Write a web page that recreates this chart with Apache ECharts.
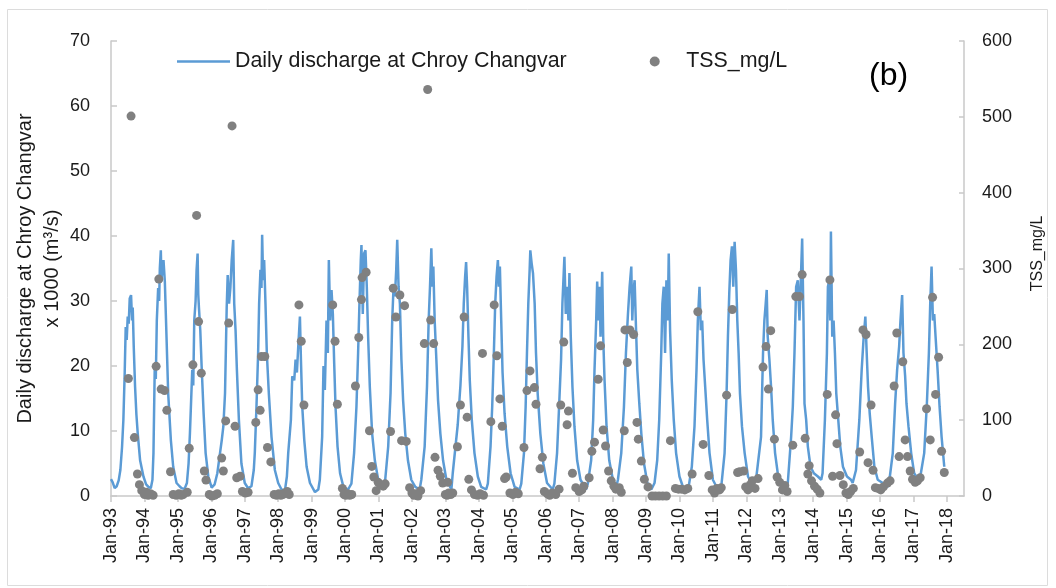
<!DOCTYPE html>
<html>
<head>
<meta charset="utf-8">
<script src="https://cdn.jsdelivr.net/npm/echarts@6/dist/echarts.min.js"></script>
<style>
  html, body { margin: 0; padding: 0; background: #fff; }
  #chart { width: 1056px; height: 588px; }
</style>
</head>
<body>
<div id="chart"></div>
<script>
// x axis ticks (decimal years) and their labels
const tickYears = [1993, 1994, 1995, 1996, 1997, 1998, 1999, 2000, 2001, 2002, 2003, 2004, 2005,
    2006, 2007, 2008, 2009, 2010, 2011, 2012, 2013, 2014, 2015, 2016, 2017, 2018];
const tickLabels = ['Jan-93', 'Jan-94', 'Jan-95', 'Jan-96', 'Jan-97', 'Jan-98', 'Jan-99', 'Jan-00',
    'Jan-01', 'Jan-02', 'Jan-03', 'Jan-04', 'Jan-05', 'Jan-06', 'Jan-07', 'Jan-08', 'Jan-09',
    'Jan-10', 'Jan-11', 'Jan-12', 'Jan-13', 'Jan-14', 'Jan-15', 'Jan-16', 'Jan-17', 'Jan-18'];

// daily discharge (x1000 m3/s): [decimal year, value]
const discharge = [
    [1993.00, 2.6], [1993.05, 2.1], [1993.11, 1.2], [1993.17, 1.5], [1993.23, 2.4], [1993.28, 4.0],
    [1993.33, 7.5], [1993.37, 11.7], [1993.41, 19], [1993.44, 26], [1993.47, 24], [1993.50, 27.6],
    [1993.53, 26.5], [1993.56, 30.4], [1993.60, 30.9], [1993.63, 27], [1993.65, 29], [1993.68, 23],
    [1993.72, 16.8], [1993.76, 12.5], [1993.80, 9.6], [1993.87, 5.5], [1993.97, 3], [1994.05, 1.8],
    [1994.12, 1.4], [1994.19, 1.2],
    [1994.24, 2.5], [1994.27, 6.6], [1994.31, 20.4], [1994.34, 18], [1994.37, 27], [1994.41, 32],
    [1994.44, 30], [1994.46, 35], [1994.49, 37.8], [1994.51, 33], [1994.53, 34.8], [1994.57, 36.3],
    [1994.61, 33], [1994.66, 24.5], [1994.71, 15.8], [1994.79, 8.6], [1994.86, 4.5], [1994.96, 2],
    [1995.05, 1.5], [1995.11, 1.2], [1995.20, 1.1],
    [1995.27, 2.0], [1995.32, 5], [1995.36, 9.6], [1995.43, 19.4], [1995.46, 17], [1995.49, 27],
    [1995.53, 30], [1995.56, 34.8], [1995.59, 37.3], [1995.61, 31], [1995.63, 29], [1995.67, 25.5],
    [1995.71, 20], [1995.77, 12.7], [1995.83, 6.6], [1995.91, 3], [1996.01, 1.3], [1996.10, 1.8],
    [1996.18, 3.5], [1996.26, 6.6], [1996.31, 8.5], [1996.36, 10.7], [1996.41, 15.8], [1996.46, 29],
    [1996.49, 34], [1996.53, 29.6], [1996.57, 32], [1996.61, 36.3], [1996.655, 39.4], [1996.685, 29.6],
    [1996.725, 25.5], [1996.765, 19.4], [1996.825, 11.7], [1996.90, 5], [1997.00, 2], [1997.10, 1.2],
    [1997.20, 1.5], [1997.27, 4], [1997.30, 6.6], [1997.35, 13.7], [1997.40, 22], [1997.43, 29.6],
    [1997.47, 34.8], [1997.50, 32], [1997.52, 40.2], [1997.55, 33.2], [1997.58, 36.3], [1997.62, 29.6],
    [1997.66, 22], [1997.72, 15.8], [1997.80, 9.1], [1997.90, 4], [1998.00, 2], [1998.10, 1],
    [1998.20, 0.8], [1998.26, 3], [1998.30, 6.6], [1998.38, 11.7], [1998.42, 18.4], [1998.48, 17.8],
    [1998.52, 21], [1998.56, 19], [1998.60, 23], [1998.65, 27.6], [1998.68, 21], [1998.72, 13.7],
    [1998.78, 8.6], [1998.85, 4.5], [1998.95, 2], [1999.10, 0.6], [1999.20, 1.0],
    [1999.245, 2.5], [1999.315, 9.1], [1999.355, 20], [1999.395, 16.3], [1999.445, 27], [1999.485, 22],
    [1999.515, 36.3], [1999.555, 27], [1999.595, 31.7], [1999.635, 28], [1999.675, 20.4], [1999.715, 13.7],
    [1999.775, 7.6], [1999.85, 3.5], [1999.95, 1.4], [2000.09, 1.0],
    [2000.19, 1.9], [2000.27, 6.6], [2000.34, 13.7], [2000.39, 22], [2000.43, 29.6], [2000.47, 36.3],
    [2000.49, 38.6], [2000.53, 28], [2000.57, 37.3], [2000.61, 37.8], [2000.65, 32.2], [2000.69, 24.5],
    [2000.74, 16.8], [2000.81, 9.6], [2000.89, 5.5], [2000.99, 2.5], [2001.11, 1.4],
    [2001.19, 1.9], [2001.29, 7.6], [2001.36, 15.8], [2001.41, 27], [2001.45, 32.2], [2001.49, 30.7],
    [2001.53, 34.8], [2001.56, 39.4], [2001.60, 32.2], [2001.64, 29.6], [2001.685, 21], [2001.735, 14.8],
    [2001.80, 9.6], [2001.88, 5.5], [2001.98, 2.5], [2002.10, 1.4], [2002.23, 1.0],
    [2002.28, 2.5], [2002.38, 7.6], [2002.45, 16.8], [2002.50, 27], [2002.54, 32.2], [2002.58, 38.1],
    [2002.61, 32.2], [2002.64, 35.3], [2002.68, 27], [2002.73, 21], [2002.78, 14.8], [2002.85, 9.6],
    [2002.93, 5.5], [2003.03, 2.5], [2003.18, 1.0],
    [2003.22, 3.5], [2003.32, 8.5], [2003.37, 11], [2003.45, 17], [2003.51, 23], [2003.55, 29.6],
    [2003.59, 33.7], [2003.62, 36], [2003.65, 32.2], [2003.69, 24.5], [2003.73, 17.8], [2003.79, 11.7],
    [2003.87, 6.6], [2003.97, 3], [2004.07, 1.4], [2004.22, 1.0],
    [2004.27, 1.9], [2004.35, 7.6], [2004.40, 13.7], [2004.45, 22], [2004.49, 29.6], [2004.53, 33.7],
    [2004.57, 36.3], [2004.60, 32.2], [2004.63, 35.3], [2004.67, 27], [2004.71, 19], [2004.77, 12.7],
    [2004.85, 7.6], [2004.95, 3.5], [2005.07, 1.4], [2005.22, 1.0],
    [2005.27, 1.9], [2005.35, 6.6], [2005.40, 13.7], [2005.44, 22], [2005.48, 29.6], [2005.52, 34.8],
    [2005.54, 37.8], [2005.58, 35.8], [2005.62, 34.3], [2005.67, 29.6], [2005.71, 22], [2005.76, 15.8],
    [2005.84, 9.6], [2005.93, 5], [2006.04, 2], [2006.21, 1.0],
    [2006.26, 1.9], [2006.34, 6.6], [2006.40, 13.7], [2006.46, 21], [2006.50, 29.6], [2006.53, 33.2],
    [2006.56, 36.8], [2006.60, 28], [2006.64, 32.2], [2006.68, 27], [2006.71, 34.3], [2006.75, 24.5],
    [2006.80, 16.8], [2006.86, 10.7], [2006.94, 5.5], [2007.04, 2.5], [2007.21, 1.0],
    [2007.26, 1.9], [2007.36, 5.5], [2007.42, 11.7], [2007.46, 19.4], [2007.51, 27], [2007.54, 33],
    [2007.58, 27], [2007.61, 32.2], [2007.64, 24.5], [2007.69, 34.5], [2007.72, 24.5], [2007.76, 17.8],
    [2007.82, 10.7], [2007.90, 5.5], [2008.01, 2.5], [2008.11, 1.4],
    [2008.16, 2.5], [2008.26, 6.6], [2008.34, 13.7], [2008.40, 22], [2008.46, 28], [2008.51, 32.2],
    [2008.56, 35.3], [2008.59, 27], [2008.62, 31.2], [2008.66, 33.2], [2008.70, 26], [2008.74, 19.4],
    [2008.80, 14.2], [2008.86, 9.6], [2008.94, 5], [2009.04, 2], [2009.16, 1.0],
    [2009.255, 2], [2009.335, 5.5], [2009.395, 11.7], [2009.455, 22], [2009.49, 29.6], [2009.53, 32.2],
    [2009.57, 22], [2009.61, 33.2], [2009.65, 27], [2009.68, 37.3], [2009.72, 25.5], [2009.77, 17.8],
    [2009.83, 11.7], [2009.90, 6.6], [2010.00, 3], [2010.13, 1.0],
    [2010.25, 0.6], [2010.37, 4.5], [2010.45, 10.7], [2010.51, 19.4], [2010.55, 27], [2010.60, 32.2],
    [2010.64, 25.5], [2010.68, 27], [2010.72, 21], [2010.77, 16.8], [2010.83, 11.7], [2010.90, 6.6],
    [2011.00, 2.5], [2011.15, 1.0],
    [2011.25, 1.4], [2011.35, 6.6], [2011.41, 15.8], [2011.45, 24.5], [2011.49, 31.2], [2011.53, 36.3],
    [2011.57, 38.4], [2011.61, 32.2], [2011.65, 39.1], [2011.69, 34.8], [2011.73, 27], [2011.77, 22],
    [2011.81, 15.8], [2011.87, 10.7], [2011.95, 6.6], [2012.05, 3], [2012.15, 2], [2012.29, 2.5],
    [2012.34, 2.5], [2012.44, 9.1], [2012.50, 22], [2012.54, 27], [2012.58, 29.6], [2012.61, 31.7],
    [2012.64, 24.5], [2012.69, 21], [2012.74, 16.8], [2012.79, 11.7], [2012.86, 6.6], [2012.94, 3.5],
    [2013.04, 2], [2013.19, 1.4],
    [2013.24, 2], [2013.34, 9.1], [2013.39, 13.7], [2013.44, 22], [2013.49, 32.2], [2013.54, 33.2],
    [2013.59, 27], [2013.64, 34.8], [2013.67, 39.6], [2013.71, 27], [2013.74, 14.2], [2013.79, 11.7],
    [2013.84, 7.6], [2013.92, 4.5], [2014.02, 3.5], [2014.14, 3], [2014.24, 2.5],
    [2014.28, 3.5], [2014.35, 11.7], [2014.41, 22], [2014.44, 32.2], [2014.48, 33.2], [2014.51, 27],
    [2014.53, 40.7], [2014.57, 24.5], [2014.61, 27], [2014.65, 22], [2014.69, 15.8], [2014.75, 11.7],
    [2014.81, 7.6], [2014.89, 4.5], [2015.01, 3], [2015.13, 2.5],
    [2015.18, 2], [2015.28, 4], [2015.38, 11.7], [2015.45, 19.4], [2015.51, 24.5], [2015.56, 27.6],
    [2015.60, 22], [2015.64, 16.8], [2015.69, 12.7], [2015.75, 9.1], [2015.83, 4.5], [2015.93, 2.5],
    [2016.08, 2], [2016.23, 1.4],
    [2016.28, 2.5], [2016.38, 6.6], [2016.45, 14.2], [2016.51, 19.4], [2016.57, 23], [2016.61, 27],
    [2016.66, 30.9], [2016.70, 22], [2016.75, 18.4], [2016.79, 14.2], [2016.85, 10.7], [2016.93, 6.6],
    [2017.02, 3.5], [2017.14, 2.5],
    [2017.22, 3.5], [2017.32, 6.6], [2017.40, 14.2], [2017.46, 22], [2017.50, 29.6], [2017.54, 35.3],
    [2017.58, 27], [2017.62, 28], [2017.66, 24.5], [2017.72, 19.4], [2017.78, 13.7], [2017.84, 9.1],
    [2017.92, 4.5]
];

// TSS samples (mg/L): [decimal year, value]
const tss = [
    [1993.52, 155], [1993.60, 501], [1993.70, 77], [1993.79, 29], [1993.85, 15], [1993.92, 7],
    [1994.00, 2], [1994.06, 5], [1994.11, 1], [1994.18, 3], [1994.26, 1],
    [1994.35, 171], [1994.43, 286], [1994.50, 141], [1994.60, 139], [1994.67, 113], [1994.78, 32],
    [1994.86, 2], [1994.95, 1], [1995.03, 3], [1995.10, 1], [1995.16, 2], [1995.28, 5],
    [1995.34, 63], [1995.45, 173], [1995.56, 370], [1995.62, 230], [1995.70, 162], [1995.79, 33],
    [1995.84, 21], [1995.94, 2], [1996.02, 0], [1996.10, 1], [1996.18, 3],
    [1996.31, 50], [1996.36, 33], [1996.43, 99], [1996.52, 228], [1996.62, 488], [1996.71, 92],
    [1996.76, 24], [1996.86, 26], [1996.93, 6], [1997.02, 4], [1997.10, 5],
    [1997.33, 97], [1997.40, 140], [1997.46, 113], [1997.50, 184], [1997.60, 184], [1997.68, 64],
    [1997.78, 45], [1997.88, 2], [1997.95, 1], [1998.02, 3], [1998.08, 1], [1998.14, 2], [1998.20, 4],
    [1998.27, 6], [1998.33, 2],
    [1998.62, 252], [1998.69, 204], [1998.77, 120],
    [1999.63, 252], [1999.70, 204], [1999.77, 121], [1999.92, 10], [1999.97, 2], [2000.02, 1],
    [2000.08, 3], [2000.14, 1], [2000.20, 2],
    [2000.31, 145], [2000.41, 209], [2000.49, 259], [2000.51, 288], [2000.63, 295], [2000.73, 86],
    [2000.80, 39], [2000.86, 25], [2000.93, 7], [2000.99, 18], [2001.06, 15], [2001.14, 13], [2001.20, 16],
    [2001.36, 85], [2001.44, 274], [2001.52, 236], [2001.64, 265], [2001.69, 73], [2001.78, 251],
    [2001.83, 72], [2001.93, 11], [2002.00, 4], [2002.06, 1], [2002.12, 3], [2002.18, 0], [2002.26, 7],
    [2002.37, 201], [2002.47, 536], [2002.56, 232], [2002.65, 201], [2002.69, 51], [2002.78, 34],
    [2002.85, 26], [2002.92, 17], [2003.00, 2], [2003.05, 1], [2003.10, 4], [2003.16, 2],
    [2003.07, 18], [2003.22, 4], [2003.36, 65], [2003.45, 120], [2003.56, 236], [2003.65, 104],
    [2003.70, 22], [2003.78, 8], [2003.87, 2], [2003.96, 1], [2004.04, 3], [2004.14, 1],
    [2004.11, 188], [2004.36, 98], [2004.46, 252], [2004.54, 185], [2004.63, 128], [2004.70, 92],
    [2004.77, 23], [2004.82, 25], [2004.93, 4], [2005.02, 2], [2005.10, 5], [2005.18, 3],
    [2005.35, 64], [2005.44, 139], [2005.53, 165], [2005.66, 143], [2005.71, 121], [2005.83, 36],
    [2005.90, 51], [2005.96, 6], [2006.05, 3], [2006.12, 1], [2006.20, 4], [2006.30, 2], [2006.40, 9],
    [2006.45, 120], [2006.54, 203], [2006.64, 94], [2006.68, 112], [2006.80, 30], [2006.90, 11],
    [2007.00, 6], [2007.08, 8], [2007.14, 13],
    [2007.30, 24], [2007.38, 59], [2007.46, 71], [2007.57, 154], [2007.64, 198], [2007.72, 87],
    [2007.79, 66], [2007.88, 33], [2007.96, 20], [2008.04, 13], [2008.10, 9],
    [2008.20, 11], [2008.26, 5], [2008.35, 86], [2008.37, 219], [2008.44, 176], [2008.52, 219],
    [2008.63, 213], [2008.73, 97], [2008.77, 75], [2008.86, 46], [2008.95, 22], [2009.06, 12],
    [2009.18, 0], [2009.28, 0], [2009.39, 0], [2009.50, 0], [2009.61, 0], [2009.73, 73], [2009.88, 10],
    [2009.97, 9], [2010.06, 9], [2010.16, 8], [2010.25, 10],
    [2010.38, 29], [2010.55, 243], [2010.71, 68], [2010.88, 27], [2010.98, 8], [2011.05, 4],
    [2011.12, 10], [2011.20, 8],
    [2011.25, 11], [2011.41, 133], [2011.58, 246], [2011.74, 31], [2011.80, 32], [2011.92, 33],
    [2011.98, 12], [2012.05, 8], [2012.12, 15],
    [2012.18, 20], [2012.26, 10], [2012.35, 23], [2012.50, 170], [2012.59, 197], [2012.66, 141],
    [2012.73, 218], [2012.84, 75], [2012.92, 25], [2013.00, 18], [2013.08, 8], [2013.15, 14], [2013.22, 6],
    [2013.39, 67], [2013.48, 263], [2013.59, 263], [2013.67, 292], [2013.76, 76], [2013.84, 29],
    [2013.88, 40], [2013.95, 20], [2014.04, 13], [2014.12, 9], [2014.20, 4],
    [2014.42, 134], [2014.50, 285], [2014.58, 26], [2014.67, 107], [2014.71, 69], [2014.80, 27],
    [2014.90, 15], [2014.98, 4], [2015.05, 2], [2015.12, 6], [2015.20, 10],
    [2015.39, 58], [2015.49, 219], [2015.58, 213], [2015.64, 44], [2015.73, 120], [2015.79, 34],
    [2015.86, 11], [2015.94, 10], [2016.02, 8], [2016.10, 12], [2016.22, 17],
    [2016.30, 20], [2016.42, 145], [2016.50, 215], [2016.57, 52], [2016.68, 177], [2016.75, 74],
    [2016.82, 52], [2016.90, 33], [2016.97, 22], [2017.05, 18], [2017.12, 20], [2017.20, 24],
    [2017.39, 115], [2017.50, 74], [2017.57, 262], [2017.66, 134], [2017.75, 183], [2017.84, 59],
    [2017.92, 31]
];

const FONT = 'Liberation Sans, Arial, sans-serif';
const AXIS_GREY = '#c9c9c9';

const chart = echarts.init(document.getElementById('chart'), null, { renderer: 'canvas' });

const option = {
    animation: false,
    backgroundColor: '#fff',
    textStyle: { fontFamily: FONT, color: '#1a1a1a' },
    grid: { left: 111, right: 92, top: 41, bottom: 92, containLabel: false, outerBoundsMode: 'none' },
    legend: {
        left: 177,
        top: 51,
        padding: 0,
        itemWidth: 53,
        itemHeight: 10,
        itemGap: 83,
        textStyle: { fontSize: 21.4, color: '#1a1a1a', fontFamily: FONT },
        data: [
            // thin bar as the line sample, no marker in the middle
            { name: 'Daily discharge at Chroy Changvar', icon: 'path://M0,0L53,0L53,2.4L0,2.4Z' },
            { name: 'TSS_mg/L', icon: 'circle' }
        ]
    },
    xAxis: {
        type: 'value',
        min: 1993,
        max: 2018.51,
        interval: 1,
        splitLine: { show: false },
        axisLine: { lineStyle: { color: AXIS_GREY, width: 1.5 } },
        axisTick: { show: true, length: 6, lineStyle: { color: AXIS_GREY, width: 1.5 }, customValues: tickYears },
        axisLabel: {
            rotate: 90,
            margin: 12,
            fontSize: 18,
            color: '#1a1a1a',
            customValues: tickYears,
            formatter: function (v) {
                const i = tickYears.indexOf(Math.round(v));
                return i >= 0 ? tickLabels[i] : '';
            }
        }
    },
    yAxis: [
        {
            type: 'value',
            min: 0,
            max: 70,
            interval: 10,
            name: 'Daily discharge at Chroy Changvar\nx 1000 (m³/s)',
            nameLocation: 'middle',
            nameGap: 45,
            nameMoveOverlap: false,
            nameRotate: 90,
            nameTextStyle: { fontSize: 20, lineHeight: 27, color: '#1a1a1a', align: 'center' },
            splitLine: { show: false },
            axisLine: { show: true, lineStyle: { color: AXIS_GREY, width: 1.5 } },
            axisTick: { show: true, inside: true, length: 6, lineStyle: { color: AXIS_GREY, width: 1.5 } },
            axisLabel: { fontSize: 18, margin: 21, color: '#1a1a1a' }
        },
        {
            type: 'value',
            min: 0,
            max: 600,
            interval: 100,
            position: 'right',
            name: 'TSS_mg/L',
            nameLocation: 'middle',
            nameGap: 66,
            nameMoveOverlap: false,
            nameRotate: 90,
            nameTextStyle: { fontSize: 16, color: '#1a1a1a', padding: [0, 0, 0, 30] },
            splitLine: { show: false },
            axisLine: { show: true, lineStyle: { color: AXIS_GREY, width: 1.5 } },
            axisTick: { show: true, inside: true, length: 5, lineStyle: { color: AXIS_GREY, width: 1.5 } },
            axisLabel: { fontSize: 18, margin: 18, color: '#1a1a1a' }
        }
    ],
    graphic: [
        {
            type: 'rect',
            silent: true,
            shape: { x: 7.5, y: 9.5, width: 1040, height: 576 },
            style: { fill: 'none', stroke: '#dcdcdc', lineWidth: 1 }
        },
        {
            type: 'text',
            left: 869,
            top: 60,
            style: { text: '(b)', fontSize: 32, fontFamily: FONT, fill: '#000' }
        }
    ],
    series: [
        {
            name: 'Daily discharge at Chroy Changvar',
            type: 'line',
            yAxisIndex: 0,
            data: discharge,
            symbol: 'none',
            smooth: false,
            lineStyle: { color: '#5b9bd5', width: 2.5 },
            itemStyle: { color: '#5b9bd5' },
            z: 2
        },
        {
            name: 'TSS_mg/L',
            type: 'scatter',
            yAxisIndex: 1,
            data: tss,
            symbol: 'circle',
            symbolSize: 9,
            itemStyle: { color: '#808080', opacity: 1 },
            clip: false,
            z: 3
        }
    ]
};

chart.setOption(option);
</script>
</body>
</html>
